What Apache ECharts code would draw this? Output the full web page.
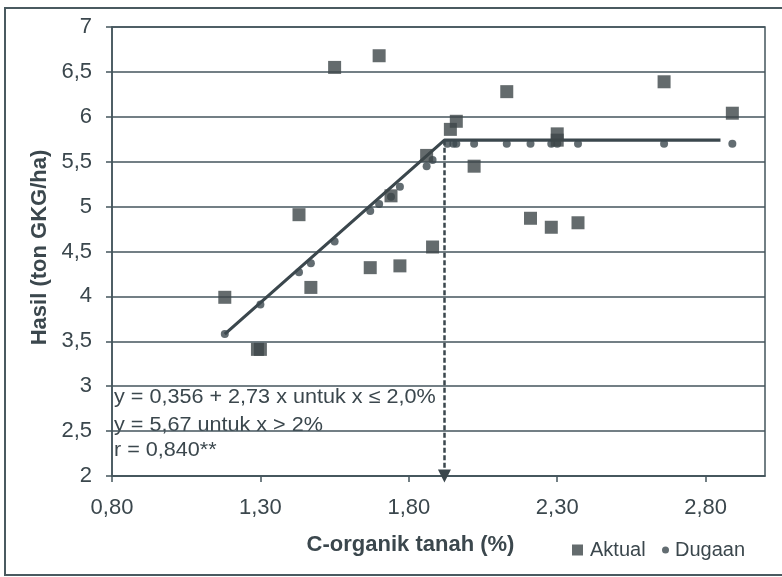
<!DOCTYPE html>
<html>
<head>
<meta charset="utf-8">
<script src="https://cdn.jsdelivr.net/npm/echarts@6/dist/echarts.min.js"></script>
<style>
html,body{margin:0;padding:0;background:#fff;}
#c{width:782px;height:577px;}
</style>
</head>
<body>
<div id="c"></div>
<script>
// Data
const aktualX = [1.18, 1.29, 1.30, 1.43, 1.47, 1.55, 1.67, 1.70, 1.74, 1.77, 1.86, 1.88, 1.94, 1.96, 2.02, 2.13, 2.21, 2.28, 2.30, 2.30, 2.37, 2.66, 2.89];
const aktualY = [3.99, 3.41, 3.41, 4.91, 4.10, 6.55, 4.32, 6.68, 5.12, 4.34, 5.57, 4.55, 5.86, 5.95, 5.45, 6.28, 4.87, 4.77, 5.81, 5.74, 4.82, 6.39, 6.04];
const dugaanX = [1.18, 1.30, 1.43, 1.47, 1.55, 1.67, 1.70, 1.74, 1.77, 1.86, 1.88, 1.93, 1.95, 1.96, 2.02, 2.13, 2.21, 2.28, 2.30, 2.37, 2.66, 2.89];
const dugaanY = [3.58, 3.91, 4.27, 4.37, 4.61, 4.95, 5.03, 5.11, 5.22, 5.45, 5.52, 5.70, 5.70, 5.70, 5.70, 5.70, 5.70, 5.70, 5.70, 5.70, 5.70, 5.70];
const lineX = [1.18, 1.92, 2.85];
const lineY = [3.58, 5.74, 5.74];
const breakX = 1.92;
const breakY = [5.74, 2.0];
const xTicks = [0.80, 1.30, 1.80, 2.30, 2.80];
const eqLines = ['y = 0,356 + 2,73 x untuk x \u2264 2,0%', 'y = 5,67 untuk x > 2%', 'r = 0,840**'];

const ink = '#3b474d';
const gridC = '#44555c';
const font = 'Liberation Sans, Arial, sans-serif';

const zip = (a, b) => a.map((v, i) => [v, b[i]]);

const chart = echarts.init(document.getElementById('c'), null, {renderer: 'canvas'});
chart.setOption({
  backgroundColor: '#ffffff',
  animation: false,
  grid: {left: 112, top: 27, right: 17, bottom: 101, show: true, borderColor: gridC, borderWidth: 1.5, backgroundColor: 'transparent'},
  xAxis: {
    type: 'value', min: 0.8, max: 3.0,
    axisLine: {show: true, onZero: false, lineStyle: {color: gridC, width: 1.5}},
    axisTick: {show: true, length: 6, customValues: xTicks, lineStyle: {color: gridC, width: 1.5}},
    axisLabel: {customValues: xTicks, margin: 21, color: ink, fontSize: 22, fontFamily: font,
      formatter: v => v.toFixed(2).replace('.', ',')},
    splitLine: {show: false},
    name: 'C-organik tanah (%)', nameLocation: 'middle', nameGap: 58,
    nameTextStyle: {color: ink, fontSize: 22, fontWeight: 'bold', fontFamily: font, padding: [0, 56, 0, 0]}
  },
  yAxis: {
    type: 'value', min: 2, max: 7, interval: 0.5,
    axisLine: {show: true, lineStyle: {color: gridC, width: 1.5}},
    axisTick: {show: true, length: 6, lineStyle: {color: gridC, width: 1.5}},
    axisLabel: {margin: 20, color: ink, fontSize: 22, fontFamily: font,
      formatter: v => String(v).replace('.', ',')},
    splitLine: {show: true, lineStyle: {color: gridC, width: 1.5}},
    name: 'Hasil (ton GKG/ha)', nameLocation: 'middle', nameGap: 61,
    nameTextStyle: {color: ink, fontSize: 22, fontWeight: 'bold', fontFamily: font, padding: [0, 0, 0, 8]}
  },
  legend: [
    {data: [{name: 'Aktual', icon: 'rect'}], left: 567, top: 535, itemWidth: 11, itemHeight: 11,
      textStyle: {color: ink, fontSize: 20, fontFamily: font, padding: [0, 0, 0, 2]}},
    {data: [{name: 'Dugaan', icon: 'circle'}], left: 657, top: 535, itemWidth: 7, itemHeight: 7,
      textStyle: {color: ink, fontSize: 20, fontFamily: font, padding: [0, 0, 0, 1]}}
  ],
  series: [
    {
      name: 'Garis', type: 'line', data: zip(lineX, lineY), symbol: 'none',
      lineStyle: {color: ink, width: 3.2}, z: 3,
      markLine: {
        silent: true, symbol: ['none', 'triangle'], symbolSize: [13, 13], label: {show: false},
        lineStyle: {color: ink, width: 2.5, type: [5, 2.5]},
        data: [[{coord: [breakX, breakY[0]]}, {coord: [breakX, breakY[1]]}]]
      }
    },
    {name: 'Dugaan', type: 'scatter', data: zip(dugaanX, dugaanY), symbol: 'circle', symbolSize: 8,
      itemStyle: {color: ink}, z: 4},
    {name: 'Aktual', type: 'scatter', data: zip(aktualX, aktualY), symbol: 'rect', symbolSize: 13,
      itemStyle: {color: '#3d4649'}, z: 5}
  ],
  graphic: [
    {type: 'rect', shape: {x: 5, y: 8, width: 800, height: 567}, style: {fill: 'none', stroke: '#4a5a60', lineWidth: 2}, silent: true},
    {type: 'text', x: 114, y: 397, scaleX: 1.08, style: {text: eqLines[0], fill: ink, font: '20px ' + font, verticalAlign: 'middle'}},
    {type: 'text', x: 114, y: 425, scaleX: 1.08, style: {text: eqLines[1], fill: ink, font: '20px ' + font, verticalAlign: 'middle'}},
    {type: 'text', x: 114, y: 450, scaleX: 1.08, style: {text: eqLines[2], fill: ink, font: '20px ' + font, verticalAlign: 'middle'}}
  ]
});
</script>
</body>
</html>
